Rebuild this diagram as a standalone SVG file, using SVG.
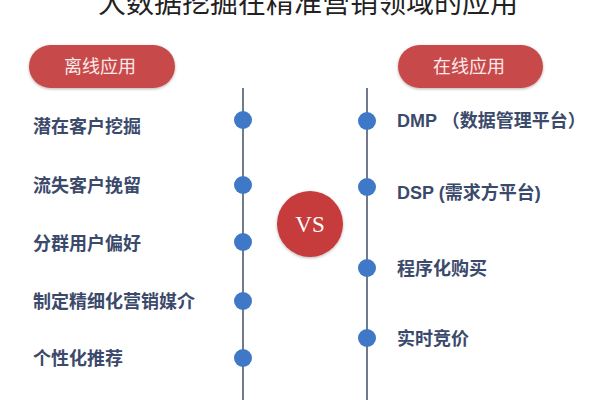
<svg xmlns="http://www.w3.org/2000/svg" width="600" height="400" viewBox="0 0 600 400">
<defs>
<style>
.title{font-family:"Liberation Sans","Noto Sans CJK SC",sans-serif;font-size:28px;fill:#222;}
.pill{fill:#c84848;}
.pilltxt{font-family:"Liberation Sans","Noto Sans CJK SC",sans-serif;font-size:18px;fill:#fbeaea;text-anchor:middle;}
.item{font-family:"Liberation Sans","Noto Sans CJK SC",sans-serif;font-size:18px;font-weight:bold;fill:#3b4a6b;}
.dot{fill:#3e78c6;}
.line{stroke:#6f7a8c;stroke-width:2;fill:none;}
.vs{fill:#c63a3a;}
.vstxt{font-family:"Liberation Serif",serif;font-size:23px;fill:#fff;text-anchor:middle;}
</style>
<filter id="sh" x="-20%" y="-30%" width="140%" height="160%">
<feGaussianBlur in="SourceAlpha" stdDeviation="1.5"/>
<feOffset dy="1"/>
<feComponentTransfer><feFuncA type="linear" slope="0.3"/></feComponentTransfer>
<feMerge><feMergeNode/><feMergeNode in="SourceGraphic"/></feMerge>
</filter>
</defs>
<rect width="600" height="400" fill="#fff"/>
<text class="title" x="308" y="13" text-anchor="middle">大数据挖掘在精准营销领域的应用</text>

<g id="connectors">
<line class="line" x1="243" y1="88" x2="243" y2="400"/>
<line class="line" x1="367" y1="88" x2="367" y2="400"/>
</g>

<g id="offline">
<rect class="pill" x="29" y="45" width="146" height="43" rx="21.5" filter="url(#sh)"/>
<text class="pilltxt" x="100" y="73">离线应用</text>
</g>
<g id="online">
<rect class="pill" x="398" y="45" width="145" height="43" rx="21.5" filter="url(#sh)"/>
<text class="pilltxt" x="469" y="73">在线应用</text>
</g>

<g id="vs">
<circle class="vs" cx="310" cy="224" r="33" filter="url(#sh)"/>
<text class="vstxt" x="310" y="232">VS</text>
</g>

<g id="left-1"><circle class="dot" cx="243" cy="120" r="9"/><text class="item" x="33" y="133">潜在客户挖掘</text></g>
<g id="left-2"><circle class="dot" cx="243" cy="185" r="9"/><text class="item" x="33" y="192">流失客户挽留</text></g>
<g id="left-3"><circle class="dot" cx="243" cy="242" r="9"/><text class="item" x="33" y="250">分群用户偏好</text></g>
<g id="left-4"><circle class="dot" cx="243" cy="301" r="9"/><text class="item" x="33" y="308">制定精细化营销媒介</text></g>
<g id="left-5"><circle class="dot" cx="243" cy="358" r="9"/><text class="item" x="33" y="365">个性化推荐</text></g>

<g id="right-1"><circle class="dot" cx="367" cy="121" r="9"/><text class="item" x="397" y="127">DMP （数据管理平台）</text></g>
<g id="right-2"><circle class="dot" cx="367" cy="187" r="9"/><text class="item" x="397" y="199">DSP (需求方平台)</text></g>
<g id="right-3"><circle class="dot" cx="367" cy="268" r="9"/><text class="item" x="397" y="275">程序化购买</text></g>
<g id="right-4"><circle class="dot" cx="367" cy="338" r="9"/><text class="item" x="397" y="345">实时竞价</text></g>
</svg>
